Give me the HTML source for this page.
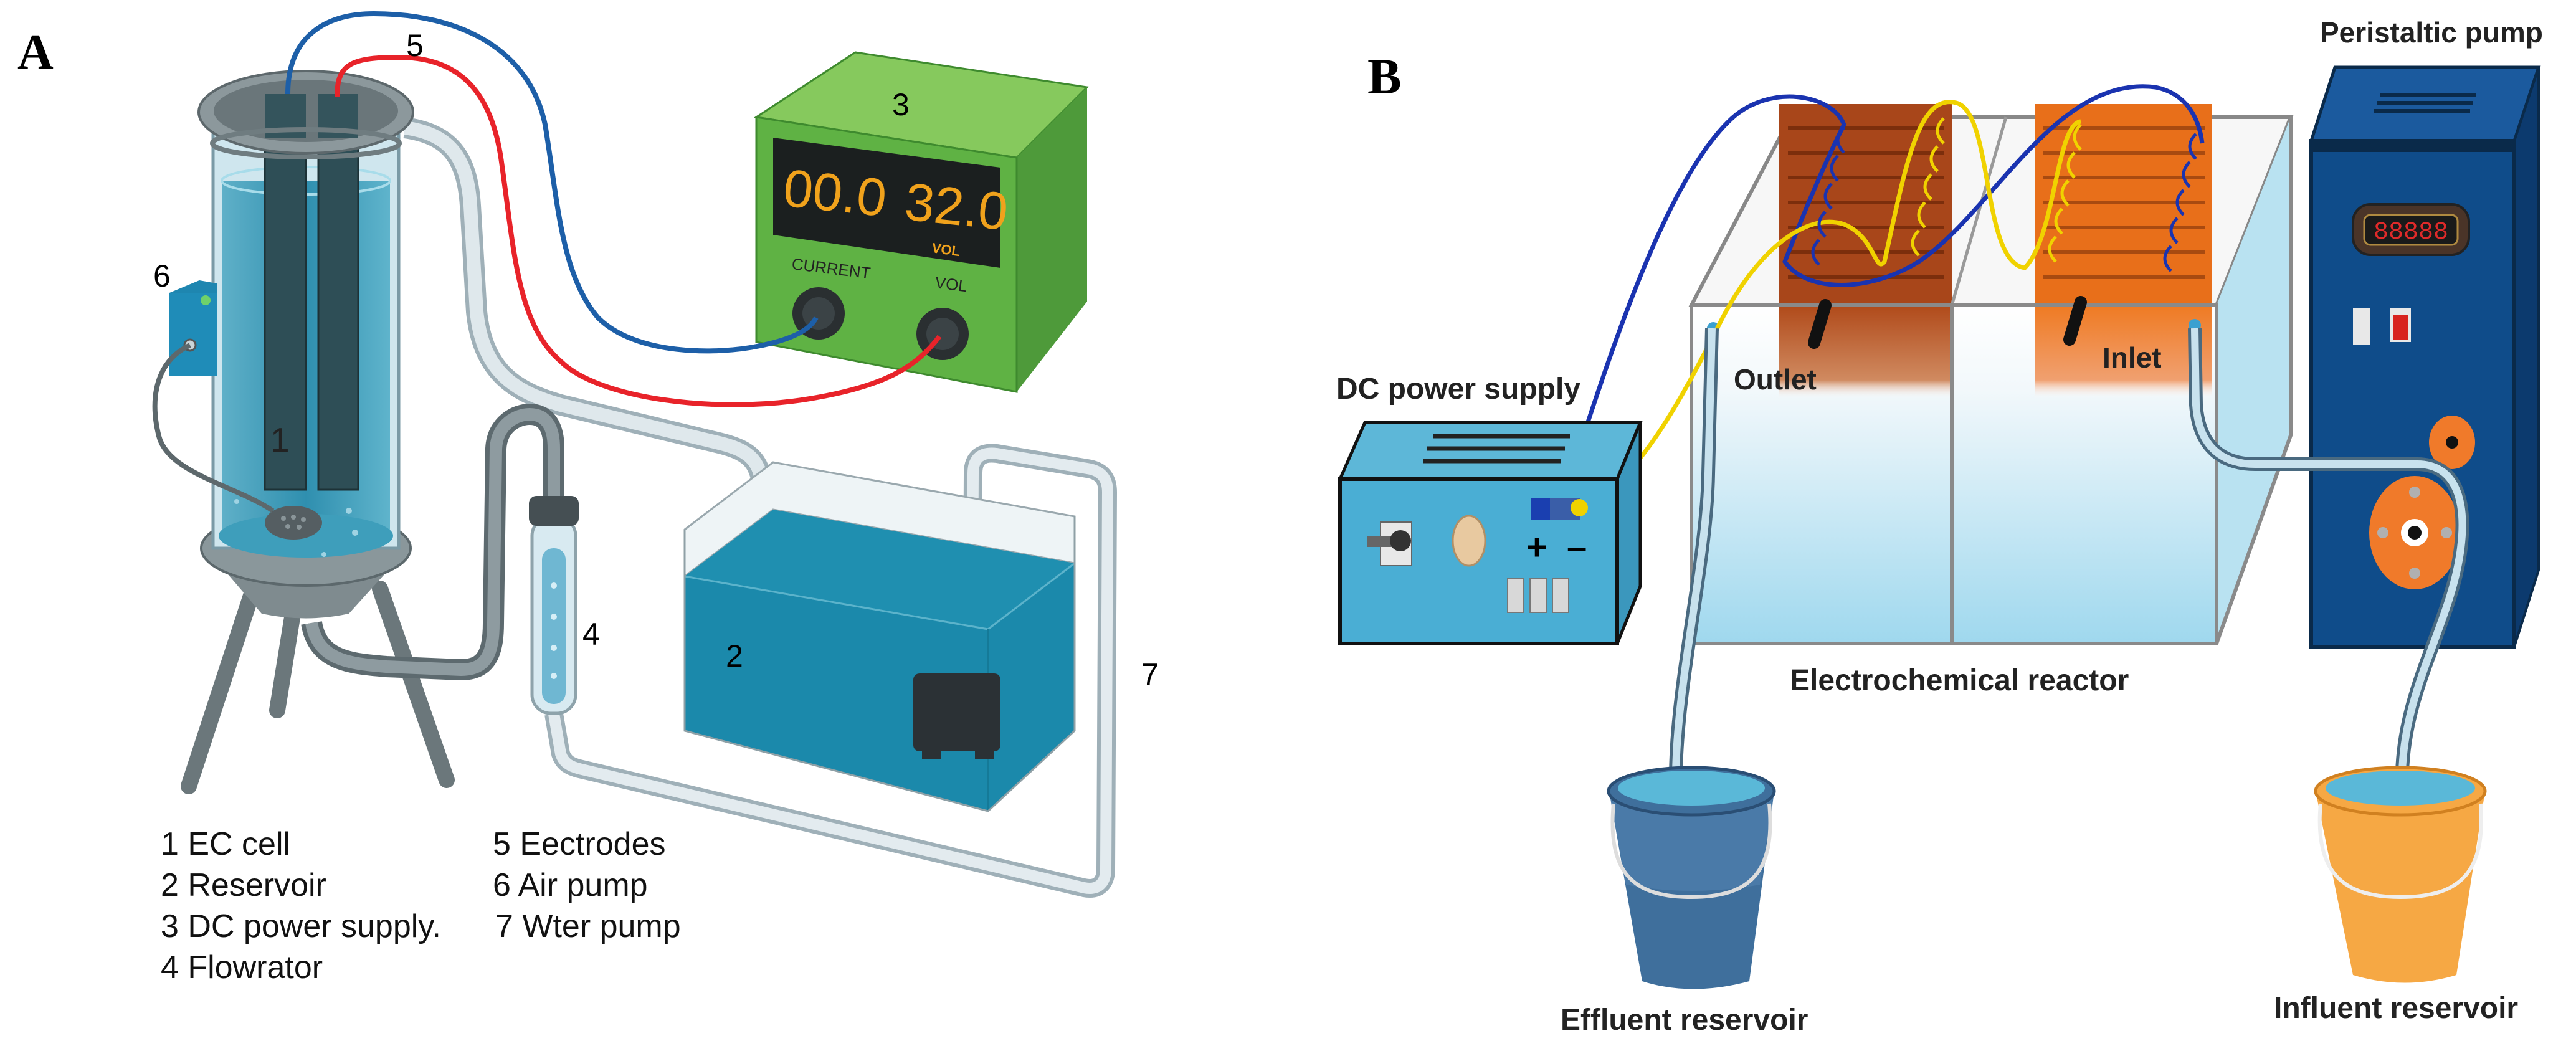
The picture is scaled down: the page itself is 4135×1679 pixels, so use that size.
<!DOCTYPE html>
<html><head><meta charset="utf-8"><style>
html,body{margin:0;padding:0;background:#fff}
svg{display:block}
text{font-family:"Liberation Sans",Arial,sans-serif}
</style></head><body>
<svg width="4135" height="1679" viewBox="0 0 4135 1679" xmlns="http://www.w3.org/2000/svg">
<defs>
<linearGradient id="wat" x1="0" y1="0" x2="0" y2="1"><stop offset="0" stop-color="#ffffff"/><stop offset="0.25" stop-color="#f2f8fb"/><stop offset="1" stop-color="#9fd8ee"/></linearGradient>
<linearGradient id="cyl" x1="0" y1="0" x2="1" y2="0"><stop offset="0" stop-color="#5fb0c8"/><stop offset="0.5" stop-color="#2f8faf"/><stop offset="1" stop-color="#5fb4cc"/></linearGradient>
<linearGradient id="brn" x1="0" y1="0" x2="0" y2="1"><stop offset="0" stop-color="#b04a1a"/><stop offset="0.8" stop-color="#d08a60"/><stop offset="1" stop-color="#ffffff" stop-opacity="0"/></linearGradient>
<linearGradient id="org" x1="0" y1="0" x2="0" y2="1"><stop offset="0" stop-color="#ef7a22"/><stop offset="0.8" stop-color="#f0a070"/><stop offset="1" stop-color="#ffffff" stop-opacity="0"/></linearGradient>
</defs>

<!-- ================= PANEL A ================= -->
<text x="28" y="110" font-family="Liberation Serif" font-weight="bold" font-size="80" style="font-family:'Liberation Serif',serif">A</text>

<!-- tube from cylinder top to reservoir -->
<path d="M650,205 C720,215 750,250 755,330 L765,500 C775,600 830,630 900,650 L1150,710 C1215,725 1225,745 1227,820" fill="none" stroke="#9fb0b8" stroke-width="34"/>
<path d="M650,205 C720,215 750,250 755,330 L765,500 C775,600 830,630 900,650 L1150,710 C1215,725 1225,745 1227,820" fill="none" stroke="#dfe8ec" stroke-width="22"/>

<!-- return tube -->
<path d="M889,1146 L900,1210 C905,1225 915,1230 930,1234 L1740,1425 C1765,1430 1775,1415 1775,1395 L1778,790 C1778,765 1765,755 1745,752 L1600,728 C1575,725 1562,735 1562,760 L1560,1110" fill="none" stroke="#9fb0b8" stroke-width="30"/>
<path d="M889,1146 L900,1210 C905,1225 915,1230 930,1234 L1740,1425 C1765,1430 1775,1415 1775,1395 L1778,790 C1778,765 1765,755 1745,752 L1600,728 C1575,725 1562,735 1562,760 L1560,1110" fill="none" stroke="#e3ebef" stroke-width="18"/>

<!-- reservoir -->
<polygon points="1099,850 1241,742 1725,829 1725,904 1241,818 1099,925" fill="#eef4f6" stroke="#9aa8ae" stroke-width="3"/>
<polygon points="1099,925 1241,818 1725,904 1725,1173 1586,1302 1099,1173" fill="#1f8fb0"/>
<polygon points="1099,925 1586,1010 1725,904 1725,1173 1586,1302 1099,1173" fill="#1b89ab"/>
<polyline points="1099,925 1586,1010 1725,904" fill="none" stroke="#5cb3cb" stroke-width="3"/>
<line x1="1586" y1="1010" x2="1586" y2="1302" stroke="#157a98" stroke-width="3"/>
<polyline points="1099,850 1099,1173 1586,1302 1725,1173 1725,829" fill="none" stroke="#8fa0a6" stroke-width="3"/>
<text x="1165" y="1070" font-size="50">2</text>
<!-- pump -->
<rect x="1466" y="1081" width="140" height="125" rx="10" fill="#2b3135"/>
<rect x="1480" y="1200" width="30" height="18" fill="#2b3135"/><rect x="1565" y="1200" width="30" height="18" fill="#2b3135"/>
<text x="1832" y="1100" font-size="50">7</text>

<!-- tripod -->
<g stroke="#6b777b" stroke-width="26" stroke-linecap="round" fill="none">
<line x1="405" y1="950" x2="303" y2="1262"/>
<line x1="470" y1="985" x2="445" y2="1140"/>
<line x1="610" y1="945" x2="717" y2="1252"/>
</g>
<!-- gray tube from base to flowmeter -->
<path d="M500,1000 C510,1060 560,1065 620,1070 L740,1075 C780,1075 792,1050 792,1000 L796,720 C798,680 830,665 850,665 C880,665 889,690 889,720 L889,800" fill="none" stroke="#5d6a6f" stroke-width="34"/>
<path d="M500,1000 C510,1060 560,1065 620,1070 L740,1075 C780,1075 792,1050 792,1000 L796,720 C798,680 830,665 850,665 C880,665 889,690 889,720 L889,800" fill="none" stroke="#8e9ba0" stroke-width="20"/>
<!-- base cone -->
<path d="M330,880 Q491,1000 655,880 L560,985 Q491,1000 420,985 Z" fill="#7f8b8f"/>
<ellipse cx="491" cy="880" rx="168" ry="60" fill="#8a979b" stroke="#5c686c" stroke-width="4"/>

<!-- cylinder -->
<rect x="342" y="190" width="298" height="690" fill="#cfe6ee" stroke="#7a9aa6" stroke-width="5"/>
<rect x="356" y="290" width="270" height="580" fill="url(#cyl)"/>
<ellipse cx="491" cy="290" rx="135" ry="22" fill="none" stroke="#a8dcea" stroke-width="4"/>
<ellipse cx="491" cy="860" rx="140" ry="35" fill="#3e9ebb"/>
<!-- electrodes -->
<rect x="425" y="151" width="66" height="635" fill="#2e4e56" stroke="#1d3237" stroke-width="3"/>
<rect x="511" y="151" width="64" height="635" fill="#2e4e56" stroke="#1d3237" stroke-width="3"/>
<text x="434" y="725" font-size="55" fill="#222">1</text>
<!-- diffuser -->
<ellipse cx="471" cy="839" rx="46" ry="27" fill="#555e62"/>
<g fill="#8a9599"><circle cx="455" cy="832" r="4"/><circle cx="471" cy="830" r="4"/><circle cx="487" cy="834" r="4"/><circle cx="462" cy="845" r="4"/><circle cx="480" cy="846" r="4"/></g>
<g fill="#9fd3e3"><circle cx="560" cy="820" r="5"/><circle cx="570" cy="855" r="5"/><circle cx="380" cy="805" r="4"/><circle cx="520" cy="890" r="4"/></g>
<!-- rim -->
<ellipse cx="491" cy="180" rx="172" ry="66" fill="#8c989c" stroke="#5d686c" stroke-width="4"/>
<ellipse cx="491" cy="178" rx="148" ry="50" fill="#6a767a"/>
<rect x="425" y="151" width="66" height="70" fill="#34545c"/>
<rect x="511" y="151" width="64" height="70" fill="#34545c"/>
<ellipse cx="491" cy="230" rx="150" ry="22" fill="none" stroke="#6f7c80" stroke-width="8"/>

<!-- air pump -->
<polygon points="272,470 320,450 348,455 348,603 272,603" fill="#1e86b0"/>
<rect x="272" y="470" width="76" height="133" fill="#1f8cb8"/>
<circle cx="330" cy="482" r="8" fill="#6fd16a"/>
<circle cx="305" cy="554" r="9" fill="#c9d4d8" stroke="#555" stroke-width="3"/>
<path d="M305,554 C250,580 240,640 255,700 C270,760 380,780 438,820" fill="none" stroke="#5d686c" stroke-width="8"/>
<text x="246" y="460" font-size="50">6</text>

<!-- flowmeter -->
<rect x="854" y="830" width="70" height="315" rx="30" fill="#d8eaf1" stroke="#8ea3ab" stroke-width="5"/>
<rect x="870" y="880" width="38" height="250" rx="18" fill="#6fb7d2"/>
<g fill="#d6eef6"><circle cx="889" cy="940" r="5"/><circle cx="889" cy="990" r="5"/><circle cx="889" cy="1040" r="5"/><circle cx="889" cy="1085" r="5"/></g>
<rect x="849" y="796" width="80" height="48" rx="12" fill="#454f53"/>
<text x="935" y="1035" font-size="50">4</text>

<!-- power supply -->
<polygon points="1214,188 1373,84 1745,140 1632,253" fill="#86c95d" stroke="#3e8a2e" stroke-width="3"/>
<polygon points="1632,253 1745,140 1745,484 1632,629" fill="#4e9a3a"/>
<polygon points="1214,188 1632,253 1632,629 1214,549" fill="#5fb244" stroke="#3e8a2e" stroke-width="3"/>
<polygon points="1241,221 1606,269 1606,430 1241,377" fill="#1b1f1f"/>
<text x="1255" y="330" font-size="85" fill="#f0a21c" transform="rotate(6 1255 330)" style="font-family:'Liberation Sans Narrow','Liberation Sans',sans-serif">00.0</text>
<text x="1450" y="352" font-size="85" fill="#f0a21c" transform="rotate(6 1450 352)" style="font-family:'Liberation Sans Narrow','Liberation Sans',sans-serif">32.0</text>
<text x="1495" y="405" font-size="22" font-weight="bold" fill="#f0a21c" transform="rotate(8 1495 405)">VOL</text>
<text x="1270" y="432" font-size="26" fill="#222" transform="rotate(7 1270 432)">CURRENT</text>
<text x="1500" y="462" font-size="26" fill="#222" transform="rotate(7 1500 462)">VOL</text>
<text x="1432" y="185" font-size="50">3</text>
<circle cx="1314" cy="503" r="42" fill="#2a2f31"/><circle cx="1314" cy="503" r="26" fill="#3b4346"/>
<circle cx="1513" cy="536" r="42" fill="#2a2f31"/><circle cx="1513" cy="536" r="26" fill="#3b4346"/>

<!-- wires -->
<path d="M462,151 C462,60 520,22 600,22 C740,22 850,80 875,200 C895,320 900,440 960,510 C1020,570 1150,570 1220,555 C1270,545 1300,530 1310,510" fill="none" stroke="#1d5fa8" stroke-width="8"/>
<path d="M541,156 C541,105 560,92 640,92 C740,92 790,150 805,260 C825,400 830,520 900,580 C960,640 1150,665 1300,640 C1420,620 1470,590 1508,540" fill="none" stroke="#e8232a" stroke-width="8"/>
<text x="652" y="90" font-size="50">5</text>

<!-- legend -->
<g font-size="52" fill="#111" style="font-family:'Liberation Sans Narrow','Liberation Sans',sans-serif">
<text x="258" y="1372">1 EC cell</text>
<text x="258" y="1438">2 Reservoir</text>
<text x="258" y="1504">3 DC power supply.</text>
<text x="258" y="1570">4 Flowrator</text>
<text x="791" y="1372">5 Eectrodes</text>
<text x="791" y="1438">6 Air pump</text>
<text x="795" y="1504">7 Wter pump</text>
</g>

<!-- ================= PANEL B ================= -->
<text x="2195" y="150" font-weight="bold" font-size="82" style="font-family:'Liberation Serif',serif">B</text>

<!-- reactor -->
<polygon points="2715,490 2874,188 3677,188 3558,490" fill="#f7f7f7" stroke="#888" stroke-width="6"/>
<polygon points="3558,490 3677,188 3677,699 3558,1033" fill="#b9e2f1"/>
<rect x="2715" y="490" width="843" height="543" fill="url(#wat)"/>
<!-- electrode stacks -->
<rect x="2855" y="167" width="278" height="330" fill="#a8461a"/>
<g stroke="#7c2e0c" stroke-width="6"><line x1="2870" y1="205" x2="3120" y2="205"/><line x1="2870" y1="245" x2="3120" y2="245"/><line x1="2870" y1="285" x2="3120" y2="285"/><line x1="2870" y1="325" x2="3120" y2="325"/><line x1="2870" y1="365" x2="3120" y2="365"/><line x1="2870" y1="405" x2="3120" y2="405"/><line x1="2870" y1="445" x2="3120" y2="445"/></g>
<rect x="2855" y="490" width="278" height="150" fill="url(#brn)"/>
<rect x="3266" y="167" width="285" height="330" fill="#e86f1a"/>
<g stroke="#a84a10" stroke-width="6"><line x1="3280" y1="205" x2="3540" y2="205"/><line x1="3280" y1="245" x2="3540" y2="245"/><line x1="3280" y1="285" x2="3540" y2="285"/><line x1="3280" y1="325" x2="3540" y2="325"/><line x1="3280" y1="365" x2="3540" y2="365"/><line x1="3280" y1="405" x2="3540" y2="405"/><line x1="3280" y1="445" x2="3540" y2="445"/></g>
<rect x="3266" y="490" width="285" height="150" fill="url(#org)"/>
<line x1="3133" y1="490" x2="3220" y2="188" stroke="#999" stroke-width="5"/>
<polyline points="2715,490 2715,1033 3558,1033 3558,490 2715,490" fill="none" stroke="#8a8a8a" stroke-width="6"/>
<line x1="3133" y1="490" x2="3133" y2="1033" stroke="#8a8a8a" stroke-width="6"/>
<polyline points="3558,1033 3677,699 3677,188" fill="none" stroke="#8a8a8a" stroke-width="6"/>
<!-- knobs -->
<line x1="2930" y1="490" x2="2912" y2="550" stroke="#111" stroke-width="20" stroke-linecap="round"/>
<line x1="3340" y1="485" x2="3322" y2="545" stroke="#111" stroke-width="20" stroke-linecap="round"/>
<circle cx="2750" cy="527" r="10" fill="#3aa0d0"/><circle cx="3523" cy="522" r="10" fill="#3aa0d0"/>
<text x="2783" y="625" font-size="46" font-weight="bold" fill="#222">Outlet</text>
<text x="3375" y="590" font-size="46" font-weight="bold" fill="#222">Inlet</text>
<text x="2873" y="1108" font-size="48" font-weight="bold" fill="#222">Electrochemical reactor</text>

<!-- wires B -->
<path d="M2505,810 C2560,650 2660,300 2780,190 C2840,135 2940,150 2960,200 C2930,260 2900,330 2865,420 C2900,470 3000,470 3080,420 C3200,340 3300,120 3460,140 C3510,150 3530,190 3535,230" fill="none" stroke="#1a33b0" stroke-width="7"/>
<path d="M2535,812 C2620,790 2700,640 2760,520 C2820,400 2900,340 2960,360 C3010,380 3010,440 3025,420 C3060,260 3080,150 3140,165 C3200,180 3180,420 3250,430 C3300,380 3300,200 3340,195" fill="none" stroke="#f0d200" stroke-width="7"/>
<g fill="none" stroke="#1a33b0" stroke-width="5"><path d="M2960,205 q-20,20 0,40 M2950,250 q-20,20 0,40 M2940,295 q-20,20 0,40 M2930,340 q-20,20 0,40 M2920,385 q-20,20 0,40 M3525,215 q-20,20 0,40 M3515,260 q-20,20 0,40 M3505,305 q-20,20 0,40 M3495,350 q-20,20 0,40 M3485,395 q-20,20 0,40"/></g>
<g fill="none" stroke="#f0d200" stroke-width="5"><path d="M3120,190 q-20,20 0,40 M3110,235 q-20,20 0,40 M3100,280 q-20,20 0,40 M3090,325 q-20,20 0,40 M3080,370 q-20,20 0,40 M3340,200 q-20,20 0,40 M3330,245 q-20,20 0,40 M3320,290 q-20,20 0,40 M3310,335 q-20,20 0,40 M3300,380 q-20,20 0,40"/></g>

<!-- DC supply -->
<polygon points="2151,769 2191,678 2633,678 2596,769" fill="#5db7d8" stroke="#111" stroke-width="5"/>
<polygon points="2596,769 2633,678 2633,941 2596,1033" fill="#3b97bd" stroke="#111" stroke-width="5"/>
<rect x="2151" y="769" width="445" height="264" fill="#4aaed4" stroke="#111" stroke-width="6"/>
<g stroke="#222" stroke-width="7"><line x1="2300" y1="700" x2="2520" y2="700"/><line x1="2290" y1="720" x2="2512" y2="720"/><line x1="2285" y1="740" x2="2505" y2="740"/></g>
<rect x="2216" y="838" width="50" height="70" fill="#e8e8e8" stroke="#666" stroke-width="2"/><rect x="2195" y="860" width="45" height="18" fill="#666"/><circle cx="2248" cy="868" r="17" fill="#333"/>
<ellipse cx="2358" cy="868" rx="26" ry="40" fill="#e8c9a0" stroke="#b08f66" stroke-width="3"/>
<rect x="2458" y="800" width="30" height="35" fill="#1a3fb0"/><rect x="2488" y="800" width="48" height="35" fill="#3a5ea8"/><circle cx="2535" cy="815" r="14" fill="#f0d200"/>
<text x="2450" y="898" font-size="58" font-weight="bold">+</text>
<text x="2515" y="898" font-size="58" font-weight="bold">–</text>
<rect x="2420" y="928" width="26" height="55" fill="#d8d8d8" stroke="#777" stroke-width="2"/><rect x="2456" y="928" width="26" height="55" fill="#d8d8d8" stroke="#777" stroke-width="2"/><rect x="2492" y="928" width="26" height="55" fill="#d8d8d8" stroke="#777" stroke-width="2"/>
<text x="2145" y="640" font-size="48" font-weight="bold" fill="#222">DC power supply</text>

<!-- pump cabinet -->
<polygon points="3710,226 3748,108 4075,108 4036,226" fill="#1b5a9e" stroke="#0a2a4a" stroke-width="5"/>
<polygon points="4036,226 4075,108 4075,915 4036,1038" fill="#0c3a6e" stroke="#0a2a4a" stroke-width="4"/>
<rect x="3710" y="226" width="326" height="812" fill="#0f4c8a" stroke="#0a2a4a" stroke-width="6"/>
<rect x="3710" y="226" width="326" height="18" fill="#0a2a4a"/>
<g stroke="#0a2a4a" stroke-width="6"><line x1="3820" y1="152" x2="3975" y2="152"/><line x1="3815" y1="165" x2="3970" y2="165"/><line x1="3810" y1="178" x2="3965" y2="178"/></g>
<rect x="3777" y="328" width="186" height="81" rx="28" fill="#4a3428" stroke="#222" stroke-width="4"/>
<rect x="3795" y="345" width="150" height="48" rx="10" fill="#1a1a1a" stroke="#b08a40" stroke-width="3"/>
<text x="3870" y="383" font-size="40" fill="#e02a2a" text-anchor="middle" style="font-family:'Liberation Mono',monospace">88888</text>
<rect x="3777" y="495" width="27" height="59" fill="#e8e8e8"/>
<rect x="3837" y="495" width="33" height="54" fill="#e8e8e8"/><rect x="3841" y="505" width="25" height="40" fill="#d8231f"/>
<ellipse cx="3936" cy="710" rx="37" ry="43" fill="#f07a2a"/><circle cx="3936" cy="710" r="10" fill="#111"/>
<ellipse cx="3876" cy="855" rx="73" ry="91" fill="#f07a2a"/><circle cx="3876" cy="855" r="22" fill="#fff"/><circle cx="3876" cy="855" r="11" fill="#111"/>
<g fill="#b0b0b0"><circle cx="3876" cy="790" r="9"/><circle cx="3876" cy="920" r="9"/><circle cx="3825" cy="855" r="9"/><circle cx="3927" cy="855" r="9"/></g>
<text x="3724" y="68" font-size="46" font-weight="bold" fill="#222">Peristaltic pump</text>

<!-- tubes B -->
<path d="M2748,527 L2742,760 C2740,900 2690,1100 2690,1250" fill="none" stroke="#4a6a80" stroke-width="22"/>
<path d="M2748,527 L2742,760 C2740,900 2690,1100 2690,1250" fill="none" stroke="#c8e2ee" stroke-width="12"/>
<path d="M3523,527 L3525,650 C3530,720 3570,745 3620,745 L3880,745 C3940,745 3960,800 3950,880 C3935,1000 3860,1100 3856,1240" fill="none" stroke="#4a6a80" stroke-width="22"/>
<path d="M3523,527 L3525,650 C3530,720 3570,745 3620,745 L3880,745 C3940,745 3960,800 3950,880 C3935,1000 3860,1100 3856,1240" fill="none" stroke="#c8e2ee" stroke-width="12"/>

<!-- effluent bucket -->
<path d="M2583,1270 L2636,1575 Q2715,1600 2808,1575 L2848,1270 Z" fill="#3f6f9c"/>
<path d="M2583,1270 L2610,1420 Q2715,1440 2825,1420 L2848,1270 Z" fill="#4a7aa8"/>
<ellipse cx="2715" cy="1270" rx="133" ry="38" fill="#3f6f9c" stroke="#2a4e74" stroke-width="5"/>
<ellipse cx="2715" cy="1265" rx="118" ry="28" fill="#5ab8d8"/>
<path d="M2590,1290 C2580,1400 2620,1440 2715,1440 C2810,1440 2850,1400 2840,1290" fill="none" stroke="#ddd" stroke-width="6"/>
<text x="2505" y="1653" font-size="48" font-weight="bold" fill="#222">Effluent reservoir</text>

<!-- influent bucket -->
<path d="M3717,1270 L3777,1565 Q3860,1590 3943,1565 L3989,1270 Z" fill="#f6a844"/>
<ellipse cx="3853" cy="1270" rx="136" ry="38" fill="#f6a844" stroke="#d08020" stroke-width="5"/>
<ellipse cx="3853" cy="1265" rx="120" ry="28" fill="#5ab8d8"/>
<path d="M3725,1290 C3715,1400 3760,1440 3853,1440 C3950,1440 3990,1400 3982,1290" fill="none" stroke="#eee" stroke-width="6"/>
<text x="3650" y="1634" font-size="48" font-weight="bold" fill="#222">Influent reservoir</text>
</svg>
</body></html>
